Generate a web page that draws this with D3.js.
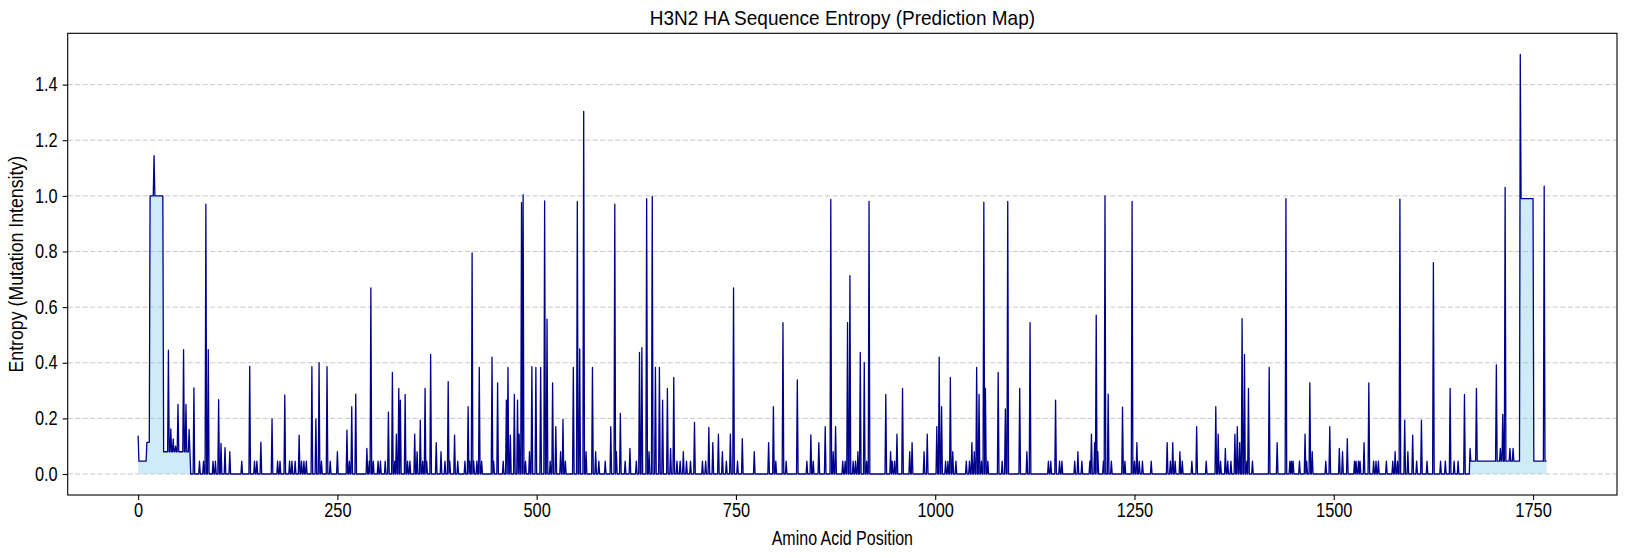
<!DOCTYPE html>
<html>
<head>
<meta charset="utf-8">
<script src="https://cdn.jsdelivr.net/npm/d3@7"></script>
<style>
  body { margin: 0; background: #fff; }
  svg { display: block; }
  text { font-family: "Liberation Sans", Arial, sans-serif; fill: #000; }
</style>
</head>
<body>
<svg id="chart" width="1627" height="558"></svg>
<script>
// entropy: plateaus [start, end, value] and single-position spikes
var plateauStart = [1, 11, 15, 32, 1672, 1735, 1751];
var plateauEnd   = [10, 14, 31, 65, 1734, 1750, 1767];
var plateauVal   = [0.046, 0.114, 1.0, 0.080, 0.046, 0.99, 0.046];

var spikePos = [0,20,38,41,44,47,50,57,60,64,70,77,82,85,88,94,97,101,104,109,115,130,140,146,149,154,168,175,178,184,190,193,197,202,205,208,211,218,223,227,230,237,241,250,262,265,268,273,287,290,292,295,301,304,310,314,319,322,324,327,329,335,338,341,347,350,354,357,360,362,367,374,380,385,389,391,397,401,410,414,416,419,421,425,428,431,444,446,451,458,462,464,467,472,476,478,481,483,486,491,494,499,505,510,513,517,520,524,530,533,536,546,551,554,559,562,570,574,578,586,593,598,600,605,611,617,625,629,632,638,641,645,649,654,658,664,668,672,676,680,684,688,693,698,708,712,716,721,728,733,738,743,747,752,758,773,791,797,800,809,813,827,839,844,847,854,862,869,872,875,884,887,890,893,897,900,903,906,911,914,917,938,944,946,949,952,959,968,971,986,990,1002,1005,1008,1013,1016,1019,1022,1026,1039,1043,1046,1049,1052,1055,1058,1061,1063,1066,1079,1084,1088,1091,1106,1115,1119,1142,1145,1151,1156,1159,1175,1179,1184,1194,1196,1200,1202,1204,1211,1213,1217,1221,1235,1238,1247,1250,1253,1256,1260,1271,1291,1295,1298,1301,1307,1310,1322,1328,1340,1352,1355,1358,1364,1367,1371,1376,1379,1382,1385,1388,1391,1393,1398,1419,1429,1440,1445,1447,1449,1457,1464,1466,1470,1473,1490,1495,1507,1511,1517,1526,1528,1531,1533,1538,1544,1550,1553,1556,1566,1574,1577,1580,1583,1589,1593,1599,1604,1610,1617,1625,1634,1640,1646,1651,1656,1664,1671,1679,1704,1709,1712,1715,1721,1725,1734,1764];
var spikeVal = [0.138,1.145,0.445,0.162,0.126,0.10,0.25,0.447,0.25,0.16,0.31,0.046,0.046,0.97,0.447,0.046,0.046,0.267,0.11,0.095,0.08,0.046,0.387,0.046,0.046,0.115,0.198,0.046,0.046,0.284,0.046,0.046,0.046,0.14,0.046,0.046,0.046,0.386,0.198,0.40,0.046,0.386,0.046,0.08,0.158,0.046,0.242,0.287,0.092,0.046,0.669,0.046,0.046,0.046,0.046,0.222,0.365,0.046,0.143,0.308,0.266,0.286,0.046,0.046,0.143,0.08,0.194,0.046,0.308,0.046,0.43,0.113,0.08,0.046,0.332,0.046,0.14,0.046,0.046,0.242,0.046,0.795,0.046,0.046,0.383,0.046,0.42,0.046,0.328,0.046,0.266,0.383,0.14,0.286,0.266,0.143,0.976,1.004,0.046,0.08,0.386,0.383,0.383,0.982,0.557,0.046,0.328,0.17,0.08,0.196,0.046,0.383,0.98,0.45,1.304,0.08,0.383,0.08,0.046,0.046,0.17,0.97,0.08,0.218,0.046,0.092,0.046,0.437,0.454,0.99,0.08,0.998,0.383,0.383,0.266,0.308,0.092,0.347,0.046,0.046,0.08,0.046,0.046,0.186,0.046,0.046,0.168,0.113,0.143,0.08,0.046,0.143,0.669,0.046,0.127,0.08,0.113,0.242,0.046,0.544,0.046,0.338,0.046,0.141,0.046,0.113,0.17,0.987,0.08,0.17,0.046,0.046,0.544,0.713,0.046,0.046,0.08,0.437,0.401,0.046,0.98,0.286,0.08,0.046,0.046,0.143,0.308,0.08,0.113,0.08,0.143,0.17,0.42,0.242,0.046,0.046,0.347,0.08,0.046,0.046,0.046,0.113,0.08,0.383,0.286,0.046,0.977,0.308,0.046,0.365,0.046,0.234,0.98,0.308,0.08,0.544,0.046,0.046,0.266,0.046,0.046,0.046,0.08,0.046,0.046,0.143,0.113,0.571,0.08,0.046,1.0,0.287,0.046,0.24,0.046,0.98,0.046,0.113,0.046,0.046,0.046,0.113,0.046,0.113,0.046,0.08,0.046,0.046,0.17,0.046,0.242,0.143,0.046,0.092,0.046,0.046,0.143,0.17,0.113,0.559,0.43,0.046,0.308,0.046,0.383,0.113,0.99,0.046,0.046,0.046,0.046,0.143,0.046,0.328,0.08,0.046,0.17,0.092,0.08,0.127,0.046,0.046,0.046,0.046,0.113,0.328,0.046,0.046,0.046,0.046,0.046,0.08,0.046,0.988,0.194,0.08,0.14,0.046,0.194,0.046,0.76,0.046,0.046,0.308,0.046,0.046,0.286,0.092,0.308,0.392,0.092,0.214,1.03,0.092,0.092,1.509,1.035];

var nPositions = 1768;
var xTicks = [0, 250, 500, 750, 1000, 1250, 1500, 1750];
var yTicks = [0.0, 0.2, 0.4, 0.6, 0.8, 1.0, 1.2, 1.4];

var entropy = new Array(nPositions).fill(0);
plateauStart.forEach(function(s, i){
  for (var p = s; p <= plateauEnd[i]; p++) entropy[p] = plateauVal[i];
});
spikePos.forEach(function(p, i){ entropy[p] = spikeVal[i]; });
var data = entropy.map(function(v, i){ return {pos: i, val: v}; });

var W = 1627, H = 558;
var m = {left: 67.7, right: 10, top: 33.3, bottom: 63};
var svg = d3.select("#chart");

var xPad = (nPositions - 1) * 0.05;
var x = d3.scaleLinear().domain([-xPad, nPositions - 1 + xPad]).range([m.left, W - m.right]);
var yMax = d3.max(entropy);
var y = d3.scaleLinear().domain([-yMax * 0.05, yMax * 1.05]).range([H - m.bottom, m.top]);

// grid
svg.append("g").selectAll("line").data(yTicks).enter().append("line")
  .attr("x1", m.left).attr("x2", W - m.right)
  .attr("y1", function(d){ return y(d); }).attr("y2", function(d){ return y(d); })
  .attr("stroke", "#b0b0b0").attr("stroke-opacity", 0.7)
  .attr("stroke-width", 1).attr("stroke-dasharray", "5,2.5");

var area = d3.area().x(function(d){ return x(d.pos); }).y0(y(0)).y1(function(d){ return y(d.val); });
var line = d3.line().x(function(d){ return x(d.pos); }).y(function(d){ return y(d.val); });

svg.append("path").datum(data).attr("d", area)
  .attr("fill", "skyblue").attr("fill-opacity", 0.4);
svg.append("path").datum(data).attr("d", line)
  .attr("fill", "none").attr("stroke", "darkblue").attr("stroke-width", 1.3)
  .attr("stroke-linejoin", "round");

// axes; the reference font is narrow, so squeeze the glyphs horizontally
var sx = 0.84;
var xAxis = svg.append("g").attr("transform", "translate(0," + (H - m.bottom) + ")")
  .call(d3.axisBottom(x).tickValues(xTicks).tickSize(5).tickPadding(5).tickFormat(d3.format("d")));
var yAxis = svg.append("g").attr("transform", "translate(" + m.left + ",0)")
  .call(d3.axisLeft(y).tickValues(yTicks).tickSize(5).tickPadding(5).tickFormat(d3.format(".1f")));
[xAxis, yAxis].forEach(function(a){
  a.select(".domain").remove();
  a.selectAll(".tick line").attr("stroke", "#000").attr("stroke-width", 1.1);
  a.selectAll("text").style("font-size", "19.5px").attr("fill", "#000")
    .attr("x", function(){ return (+d3.select(this).attr("x") || 0) / sx; })
    .attr("transform", "scale(" + sx + ",1)");
});
xAxis.selectAll("text").attr("y", 8);

svg.append("rect").attr("x", m.left).attr("y", m.top)
  .attr("width", W - m.right - m.left).attr("height", H - m.bottom - m.top)
  .attr("fill", "none").attr("stroke", "#000").attr("stroke-width", 1.1);

function label(txt, tx, ty, rot, size, squeeze){
  svg.append("text")
    .attr("transform", "translate(" + tx + "," + ty + ") rotate(" + rot + ") scale(" + squeeze + ",1)")
    .attr("text-anchor", "middle").style("font-size", size + "px")
    .text(txt);
}
var cx = (m.left + W - m.right) / 2;
label("H3N2 HA Sequence Entropy (Prediction Map)", cx, 25, 0, 20, 0.95);
label("Amino Acid Position", cx, 545, 0, 19.5, 0.82);
label("Entropy (Mutation Intensity)", 23, (m.top + H - m.bottom) / 2, -90, 19.5, 0.91);
</script>
</body>
</html>
